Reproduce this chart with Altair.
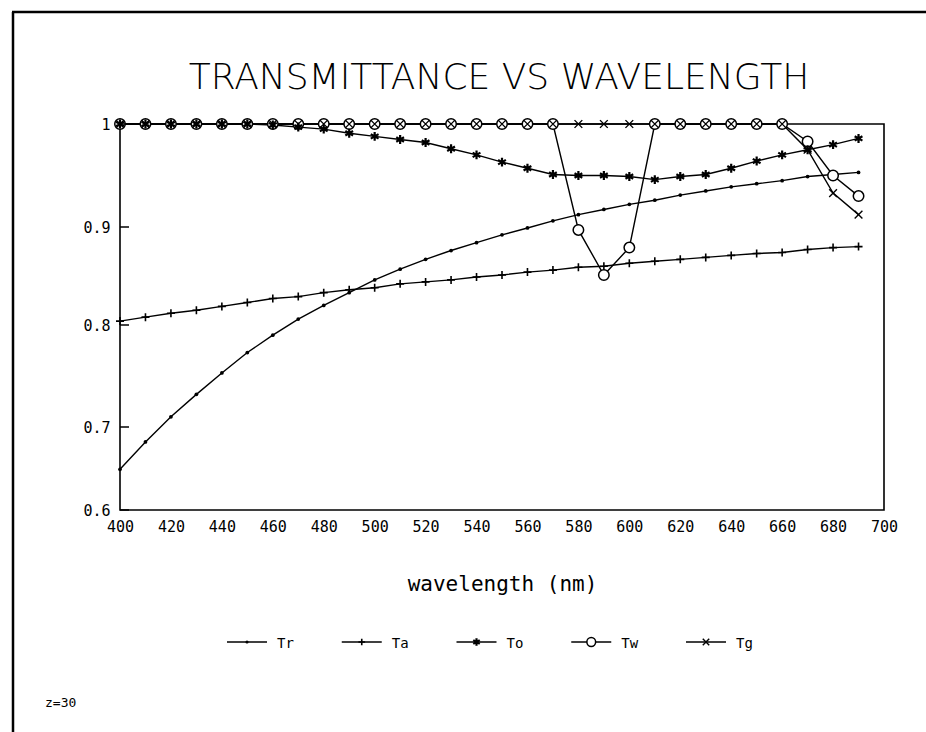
import altair as alt
import pandas as pd

# ---------------- data ----------------
wavelength = [400, 410, 420, 430, 440, 450, 460, 470, 480, 490,
              500, 510, 520, 530, 540, 550, 560, 570, 580, 590,
              600, 610, 620, 630, 640, 650, 660, 670, 680, 690]

Tr = [0.649, 0.682, 0.710, 0.732, 0.753, 0.773, 0.790, 0.806, 0.820, 0.833,
      0.846, 0.857, 0.867, 0.876, 0.884, 0.892, 0.899, 0.906, 0.912, 0.917,
      0.922, 0.926, 0.931, 0.935, 0.939, 0.942, 0.945, 0.949, 0.951, 0.953]
Ta = [0.804, 0.808, 0.812, 0.815, 0.819, 0.823, 0.827, 0.829, 0.833, 0.836,
      0.838, 0.842, 0.844, 0.846, 0.849, 0.851, 0.854, 0.856, 0.859, 0.860,
      0.863, 0.865, 0.867, 0.869, 0.871, 0.873, 0.874, 0.877, 0.879, 0.880]
To = [1.000, 1.000, 1.000, 1.000, 1.000, 1.000, 0.999, 0.997, 0.995, 0.991,
      0.988, 0.985, 0.982, 0.976, 0.970, 0.963, 0.957, 0.951, 0.950, 0.950,
      0.949, 0.946, 0.949, 0.951, 0.957, 0.964, 0.970, 0.975, 0.980, 0.986]
Tw = [1.000, 1.000, 1.000, 1.000, 1.000, 1.000, 1.000, 1.000, 1.000, 1.000,
      1.000, 1.000, 1.000, 1.000, 1.000, 1.000, 1.000, 1.000, 0.897, 0.851,
      0.879, 1.000, 1.000, 1.000, 1.000, 1.000, 1.000, 0.983, 0.950, 0.930]
Tg = [1.000, 1.000, 1.000, 1.000, 1.000, 1.000, 1.000, 1.000, 1.000, 1.000,
      1.000, 1.000, 1.000, 1.000, 1.000, 1.000, 1.000, 1.000, 1.000, 1.000,
      1.000, 1.000, 1.000, 1.000, 1.000, 1.000, 1.000, 0.975, 0.933, 0.912]

series_names = ["Tr", "Ta", "To", "Tw", "Tg"]
series_values = [Tr, Ta, To, Tw, Tg]

x_tick_values = [400, 420, 440, 460, 480, 500, 520, 540, 560, 580, 600,
                 620, 640, 660, 680, 700]
y_tick_values = [0.6, 0.7, 0.8, 0.9, 1.0]

title_text = "TRANSMITTANCE VS WAVELENGTH"
x_title = "wavelength (nm)"
note_text = "z=30"

# ---------------- layout (pixels) ----------------
W, H = 764, 386
PAD = {"left": 120, "top": 124, "right": 926 - 120 - W, "bottom": 732 - 124 - H}
# the scanned axis is not evenly spaced; piecewise scale follows the scan
y_range_px = [386, 303, 201, 103, 0]

MONO = "DejaVu Sans Mono"

rows = []
for name, vals in zip(series_names, series_values):
    for w, v in zip(wavelength, vals):
        rows.append({"series": name, "wavelength": w, "value": v})
df = pd.DataFrame(rows)

legend_df = pd.DataFrame({"series": series_names, "idx": list(range(len(series_names)))})
ytick_df = pd.DataFrame({"value": y_tick_values})
one_df = pd.DataFrame({"label": [title_text]})

x_scale = alt.Scale(domain=[400, 700], nice=False, zero=False)
y_scale = alt.Scale(domain=y_tick_values, range=y_range_px, nice=False, zero=False)

x_axis = alt.Axis(values=x_tick_values, title=x_title, ticks=False, tickSize=0,
                  labelPadding=9, labelFont=MONO, labelFontSize=15,
                  labelColor="black", titleFont=MONO, titleFontSize=21,
                  titleFontWeight="normal", titleColor="black",
                  titleBaseline="middle", titleY=74, domain=False, grid=False,
                  labelFlush=False)
y_axis = alt.Axis(values=y_tick_values, title=None, ticks=False, tickSize=0,
                  labelPadding=10, labelFont=MONO, labelFontSize=15,
                  labelColor="black", domain=False, grid=False,
                  labelExpr="datum.value == 1 ? '1' : format(datum.value, '.1f')")

X = alt.X("wavelength:Q", scale=x_scale, axis=x_axis)
Xn = alt.X("wavelength:Q", scale=x_scale, axis=None)
Y = alt.Y("value:Q", scale=y_scale, axis=y_axis)

lines = alt.Chart(df).mark_line(color="black", strokeWidth=1.4).encode(
    x=X, y=Y, detail="series:N")

marker_style = {
    "Tr": dict(shape="circle", filled=True, color="black", size=14),
    "Ta": dict(shape="M0,-1V1M-1,0H1", filled=False, color="black", size=64, strokeWidth=1.6),
    "Tw": dict(shape="circle", filled=True, fill="white", stroke="black", size=110, strokeWidth=1.5),
    "To": dict(shape="M0,-1V1M-0.87,-0.5L0.87,0.5M-0.87,0.5L0.87,-0.5", filled=False,
               color="black", size=80, strokeWidth=2.2),
    "Tg": dict(shape="M-1,-1L1,1M-1,1L1,-1", filled=False, color="black", size=60, strokeWidth=1.4),
}
draw_order = ["Tr", "Ta", "Tw", "To", "Tg"]

point_layers = []
for name in draw_order:
    point_layers.append(
        alt.Chart(df).transform_filter(alt.datum.series == name)
        .mark_point(opacity=1, **marker_style[name])
        .encode(x=Xn, y=Y)
    )

# inward ticks on the y axis
yticks = alt.Chart(ytick_df).mark_rule(color="black", strokeWidth=1.5).encode(
    y=Y, x=alt.value(0), x2=alt.value(9))

# legend drawn below the plot
LEG_Y = 518
leg_scale = alt.Scale(domain=[0, 4], range=[107, 566])
LX = alt.X("idx:Q", scale=leg_scale, axis=None)
leg_lines = alt.Chart(legend_df).mark_rule(color="black", strokeWidth=1.4, x2Offset=40).encode(
    x=LX, x2=alt.X2("idx:Q"), y=alt.value(LEG_Y))
leg_text = alt.Chart(legend_df).mark_text(align="left", baseline="middle", dx=50, dy=2,
                                          font=MONO, fontSize=14, color="black").encode(
    x=LX, y=alt.value(LEG_Y), text="series:N")
leg_marks = []
for name in draw_order:
    st = dict(marker_style[name])
    st["size"] = st["size"] * 0.7
    leg_marks.append(
        alt.Chart(legend_df).transform_filter(alt.datum.series == name)
        .mark_point(opacity=1, xOffset=20, **st)
        .encode(x=LX, y=alt.value(LEG_Y))
    )

title_mark = alt.Chart(one_df).mark_text(
    align="center", baseline="middle", font="DejaVu Sans", fontSize=36,
    fontWeight=200, color="black"
).encode(x=alt.value(379), y=alt.value(-46), text="label:N")

note = alt.Chart(legend_df).transform_filter(alt.datum.idx == 0).mark_text(
    align="left", baseline="middle", font=MONO, fontSize=13, color="black", text=note_text
).encode(x=alt.value(-75), y=alt.value(579))

frame_left = alt.Chart(legend_df).transform_filter(alt.datum.idx == 0).mark_rule(
    color="black", strokeWidth=2.5).encode(
    x=alt.value(-107), y=alt.value(-112), y2=alt.value(620))
frame_top = alt.Chart(legend_df).transform_filter(alt.datum.idx == 0).mark_rule(
    color="black", strokeWidth=2.5).encode(
    x=alt.value(-108), x2=alt.value(820), y=alt.value(-112))

chart = alt.layer(
    lines, *point_layers, yticks, leg_lines, *leg_marks, leg_text, note,
    title_mark, frame_left, frame_top
).resolve_scale(x="independent").properties(
    width=W, height=H, padding=PAD, autosize="none"
).configure(background="white").configure_view(stroke="black", strokeWidth=1.6)

chart.save("out.html", embed_options={"renderer": "svg", "actions": False})
